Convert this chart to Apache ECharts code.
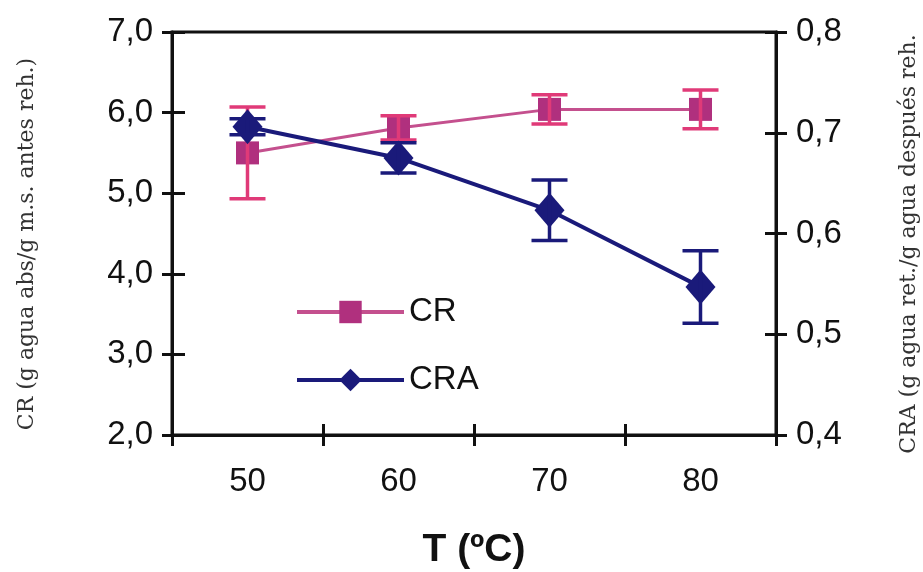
<!DOCTYPE html>
<html>
<head>
<meta charset="utf-8">
<script src="https://cdn.jsdelivr.net/npm/echarts@6/dist/echarts.min.js"></script>
<style>html,body{margin:0;padding:0;background:#fff}#c{width:923px;height:572px}</style>
</head>
<body>
<div id="c"></div>
<script>
const categories = ['50', '60', '70', '80'];
const crMean = [5.50, 5.81, 6.04, 6.04];
const crErr = [0.57, 0.15, 0.18, 0.24];
const craMean = [0.706, 0.675, 0.623, 0.547];
const craErr = [0.008, 0.015, 0.030, 0.036];
const leftTicks = { min: 2, max: 7, interval: 1 };
const rightTicks = { min: 0.4, max: 0.8, interval: 0.1 };
const leftTitle = 'CR (g agua abs/g m.s. antes reh.)';
const rightTitle = 'CRA (g agua ret./g agua después reh.';
const xTitle = 'T (ºC)';

const comma = v => v.toFixed(1).replace('.', ',');
const CR_LINE = '#c4508e', CR_MARK = '#b0307e', CR_ERR = '#e03a78';
const CRA = '#1a1a7a';
const AX = '#111';

function errRender(color) {
  return function (params, api) {
    const x = api.value(0);
    const top = api.coord([x, api.value(2)]);
    const bot = api.coord([x, api.value(1)]);
    const hw = 18;
    const st = { stroke: color, lineWidth: 3.5 };
    return {
      type: 'group',
      children: [
        { type: 'line', shape: { x1: top[0], y1: top[1], x2: bot[0], y2: bot[1] }, style: st },
        { type: 'line', shape: { x1: top[0] - hw, y1: top[1], x2: top[0] + hw, y2: top[1] }, style: st },
        { type: 'line', shape: { x1: bot[0] - hw, y1: bot[1], x2: bot[0] + hw, y2: bot[1] }, style: st }
      ]
    };
  };
}

const labelFont = { fontFamily: 'Liberation Sans', fontSize: 33, color: '#111' };
const sideFont = '22px "DejaVu Serif"';
const chart = echarts.init(document.getElementById('c'), null, { renderer: 'canvas' });
chart.setOption({
  animation: false,
  backgroundColor: '#fff',
  grid: { left: 172, right: 147, top: 32, bottom: 137, containLabel: false, outerBoundsMode: 'none',
    show: true, borderColor: AX, borderWidth: 3, backgroundColor: 'transparent' },
  legend: {
    data: ['CR', 'CRA'], orient: 'vertical', left: 295, top: 295, itemGap: 34, padding: 0,
    itemWidth: 107, itemHeight: 28,
    lineStyle: { width: 4 },
    textStyle: { fontFamily: 'Liberation Sans', fontSize: 33, color: '#111', lineHeight: 34 }
  },
  graphic: [{
    type: 'text', x: 27, y: 244, rotation: Math.PI / 2, silent: true,
    style: { text: leftTitle, font: sideFont, fill: '#333', align: 'center', verticalAlign: 'middle' }
  }, {
    type: 'text', x: 909, y: 244, rotation: Math.PI / 2, silent: true,
    style: { text: rightTitle, font: sideFont, fill: '#333', align: 'center', verticalAlign: 'middle' }
  }],
  xAxis: [{
    type: 'category', data: categories, boundaryGap: true,
    name: xTitle, nameLocation: 'middle', nameGap: 96,
    nameTextStyle: { fontFamily: 'Liberation Sans', fontSize: 39, fontWeight: 'bold', color: '#111' },
    axisLine: { lineStyle: { color: AX, width: 3 } },
    axisTick: { show: true, length: 11, lineStyle: { color: AX, width: 3 } },
    axisLabel: Object.assign({ margin: 30 }, labelFont),
    splitLine: { show: false }
  }, {
    type: 'category', data: categories, boundaryGap: true, position: 'bottom',
    axisLine: { show: false },
    axisTick: { show: true, inside: true, length: 11, lineStyle: { color: AX, width: 3 } },
    axisLabel: { show: false }, splitLine: { show: false }
  }],
  yAxis: [{
    type: 'value', position: 'left', min: leftTicks.min, max: leftTicks.max, interval: leftTicks.interval,
    axisLine: { show: true, lineStyle: { color: AX, width: 3 } },
    axisTick: { show: true, length: 10, lineStyle: { color: AX, width: 3 } },
    axisLabel: Object.assign({ margin: 19, formatter: comma }, labelFont),
    splitLine: { show: false }
  }, {
    type: 'value', position: 'right', min: rightTicks.min, max: rightTicks.max, interval: rightTicks.interval,
    axisLine: { show: true, lineStyle: { color: AX, width: 3 } },
    axisTick: { show: true, length: 11, lineStyle: { color: AX, width: 3 } },
    axisLabel: Object.assign({ margin: 20, formatter: comma }, labelFont),
    splitLine: { show: false }
  }, {
    type: 'value', position: 'left', min: leftTicks.min, max: leftTicks.max, interval: leftTicks.interval,
    axisLine: { show: false }, axisLabel: { show: false }, splitLine: { show: false },
    axisTick: { show: true, inside: true, length: 13, lineStyle: { color: AX, width: 3 } }
  }, {
    type: 'value', position: 'right', min: rightTicks.min, max: rightTicks.max, interval: rightTicks.interval,
    axisLine: { show: false }, axisLabel: { show: false }, splitLine: { show: false },
    axisTick: { show: true, inside: true, length: 11, lineStyle: { color: AX, width: 3 } }
  }],
  series: [{
    name: 'CR', type: 'line', yAxisIndex: 0, data: crMean,
    symbol: 'rect', symbolSize: 23,
    lineStyle: { color: CR_LINE, width: 3 },
    itemStyle: { color: CR_MARK },
    z: 2
  }, {
    name: 'CR err', type: 'custom', yAxisIndex: 0,
    data: crMean.map((m, i) => [i, m - crErr[i], m + crErr[i]]),
    renderItem: errRender(CR_ERR), z: 3
  }, {
    name: 'CRA', type: 'line', yAxisIndex: 1, data: craMean,
    symbol: 'diamond', symbolSize: [30, 35],
    lineStyle: { color: CRA, width: 4 },
    itemStyle: { color: CRA },
    z: 4
  }, {
    name: 'CRA err', type: 'custom', yAxisIndex: 1,
    data: craMean.map((m, i) => [i, m - craErr[i], m + craErr[i]]),
    renderItem: errRender(CRA), z: 5
  }]
});
</script>
</body>
</html>
